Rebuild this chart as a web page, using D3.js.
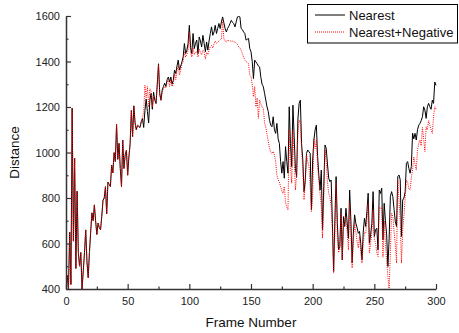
<!DOCTYPE html>
<html>
<head>
<meta charset="utf-8">
<script src="https://cdn.jsdelivr.net/npm/d3@7"></script>
<style>
  html, body { margin: 0; padding: 0; background: #fff; }
  svg { display: block; font-family: "Liberation Sans", Arial, sans-serif; }
</style>
</head>
<body>
<svg id="chart" width="459" height="333"></svg>
<script>
// ---- data ----
const frames = d3.range(0, 301);
const xTicks = [0, 50, 100, 150, 200, 250, 300];
const xMinorTicks = [25, 75, 125, 175, 225, 275];
const yTicks = [400, 600, 800, 1000, 1200, 1400, 1600];
const yMinorTicks = [500, 700, 900, 1100, 1300, 1500];
const seriesNames = ["Nearest", "Nearest+Negative"];

const nearest = [
  440,460,400,650,420,1195,610,975,490,830,
  560,500,560,400,480,560,660,520,450,560,
  650,735,700,770,700,640,690,670,660,720,
  790,800,850,730,870,860,850,945,910,1000,
  960,1125,970,1040,930,850,1055,930,990,1010,
  900,980,1040,1185,1070,1205,1130,1100,1120,1115,
  1110,1135,1150,1110,1185,1235,1180,1130,1230,1260,
  1190,1265,1230,1215,1300,1390,1260,1230,1275,1290,
  1305,1290,1320,1332,1310,1332,1300,1318,1362,1347,
  1380,1406,1362,1380,1398,1420,1479,1435,1450,1479,
  1559,1460,1435,1523,1457,1480,1494,1435,1508,1490,
  1464,1515,1480,1443,1486,1450,1490,1523,1552,1515,
  1530,1559,1523,1545,1567,1545,1574,1596,1570,1545,
  1530,1545,1555,1567,1581,1572,1567,1552,1574,1596,
  1598,1596,1545,1540,1530,1523,1494,1498,1501,1457,
  1443,1400,1325,1406,1398,1390,1380,1376,1330,1300,
  1289,1260,1230,1200,1180,1142,1120,1113,1157,1100,
  1084,1128,1060,1040,960,909,960,887,1026,960,
  909,1201,1040,938,1208,1069,930,894,1142,1216,
  1230,1040,967,828,879,996,1011,1003,996,748,
  967,1055,1100,1120,982,900,835,923,660,850,
  1033,1018,950,887,872,879,689,477,700,894,
  689,572,587,755,528,718,675,755,690,623,
  835,700,514,645,726,689,670,645,653,600,
  528,650,711,675,740,821,601,640,689,828,
  631,660,667,572,835,820,843,616,777,700,
  638,499,620,806,828,806,750,697,675,894,
  901,880,631,791,800,828,952,960,930,909,
  938,1085,1060,1084,1055,1100,1120,1128,1140,1157,
  1201,1186,1150,1201,1216,1201,1190,1230,1216,1310,
  1295
];

const nearestNegative = [
  440,460,400,650,420,1195,610,975,490,830,
  560,500,560,400,480,560,660,520,450,560,
  650,735,700,770,700,640,690,670,660,720,
  790,800,850,730,870,860,850,945,910,1000,
  960,1125,970,1040,930,850,1055,930,990,1010,
  900,980,1040,1185,1070,1205,1130,1100,1120,1115,
  1110,1135,1150,1180,1296,1240,1290,1200,1280,1270,
  1200,1250,1240,1220,1300,1385,1250,1230,1265,1280,
  1290,1285,1310,1320,1290,1320,1290,1300,1345,1320,
  1360,1380,1340,1360,1390,1400,1440,1420,1430,1450,
  1530,1440,1420,1460,1430,1440,1445,1420,1455,1440,
  1430,1450,1440,1410,1440,1430,1450,1465,1470,1460,
  1475,1490,1480,1485,1490,1495,1500,1580,1500,1490,
  1485,1495,1490,1492,1488,1490,1487,1485,1480,1475,
  1464,1460,1450,1435,1420,1406,1400,1395,1391,1340,
  1333,1300,1245,1290,1201,1240,1150,1230,1215,1200,
  1195,1130,1110,1080,1050,1020,1000,996,1005,990,
  960,900,880,870,850,830,820,850,780,760,
  748,1099,940,865,1099,970,835,900,1080,1143,
  1130,1010,930,792,865,990,960,940,850,740,
  800,1062,1018,1055,940,880,820,760,623,800,
  1011,960,870,821,805,760,660,470,640,865,
  630,560,575,733,528,690,680,718,650,572,
  777,640,492,615,690,650,610,580,630,560,
  514,600,650,645,700,777,558,600,650,748,
  620,600,560,543,760,755,762,540,700,600,
  520,455,397,560,733,720,650,600,514,879,
  790,700,514,660,720,800,879,870,840,835,
  890,923,980,950,923,1010,1040,1055,1030,1110,
  1060,1004,1113,1100,1140,1120,1100,1084,1157,1201,
  1190
];

// ---- drawing ----
const svg = d3.select("#chart");
const x = d3.scaleLinear().domain([0, 300]).range([66, 436]);
const y = d3.scaleLinear().domain([400, 1600]).range([289, 16]);

svg.append("defs").append("clipPath").attr("id", "plotclip")
  .append("rect").attr("x", 66).attr("y", 16).attr("width", 371).attr("height", 273.5);

const line = (vals) => d3.line()
  .x((d, i) => x(frames[i]))
  .y(d => y(d))(vals);

const plot = svg.append("g").attr("clip-path", "url(#plotclip)");
plot.append("path").attr("d", line(nearest))
  .attr("fill", "none").attr("stroke", "#000").attr("stroke-width", 1);
plot.append("path").attr("d", line(nearestNegative))
  .attr("fill", "none").attr("stroke", "#ff0000").attr("stroke-width", 1)
  .attr("stroke-dasharray", "1,1.2");

const axisColor = "#333";
const fmt = d3.format("d");
// x axis
const gx = svg.append("g").attr("transform", "translate(0,289)")
  .call(d3.axisBottom(x).tickValues(xTicks).tickFormat(fmt).tickSize(-5).tickSizeOuter(0).tickPadding(8));
const gxm = svg.append("g").attr("transform", "translate(0,289)")
  .call(d3.axisBottom(x).tickValues(xMinorTicks).tickSize(-2.5).tickSizeOuter(0).tickFormat(""));
gxm.select(".domain").remove();
// y axis
const gy = svg.append("g").attr("transform", "translate(66,0)")
  .call(d3.axisLeft(y).tickValues(yTicks).tickFormat(fmt).tickSize(-5).tickSizeOuter(0).tickPadding(6));
const gym = svg.append("g").attr("transform", "translate(66,0)")
  .call(d3.axisLeft(y).tickValues(yMinorTicks).tickSize(-2.5).tickSizeOuter(0).tickFormat(""));
gym.select(".domain").remove();

[gx, gxm, gy, gym].forEach(g => {
  g.selectAll(".domain").attr("stroke", axisColor).attr("stroke-width", 1.5);
  g.selectAll(".tick line").attr("stroke", axisColor).attr("stroke-width", 1.2);
  g.selectAll("text").attr("font-size", 11).attr("fill", "#222")
    .attr("font-family", "Liberation Sans, Arial, sans-serif");
});

// axis titles
svg.append("text").attr("x", 251).attr("y", 326.5).attr("text-anchor", "middle")
  .attr("font-size", 13.5).attr("fill", "#111").text("Frame Number");
svg.append("text").attr("transform", "translate(18.5,152.5) rotate(-90)")
  .attr("text-anchor", "middle").attr("font-size", 13.5).attr("fill", "#111").text("Distance");

// legend
const lg = svg.append("g");
lg.append("rect").attr("x", 307.5).attr("y", 4.5).attr("width", 150).attr("height", 38.5)
  .attr("fill", "#fff").attr("stroke", "#000").attr("stroke-width", 1);
const legendStyles = [
  {color: "#000", dash: null},
  {color: "#ff0000", dash: "1,1"}
];
seriesNames.forEach((name, i) => {
  const yy = 15 + i * 17;
  lg.append("line").attr("x1", 315).attr("x2", 345).attr("y1", yy).attr("y2", yy)
    .attr("stroke", legendStyles[i].color).attr("stroke-width", 1)
    .attr("stroke-dasharray", legendStyles[i].dash);
  lg.append("text").attr("x", 349).attr("y", yy).attr("dy", "0.35em")
    .attr("font-size", 13).attr("fill", "#111").text(name);
});
</script>
</body>
</html>
